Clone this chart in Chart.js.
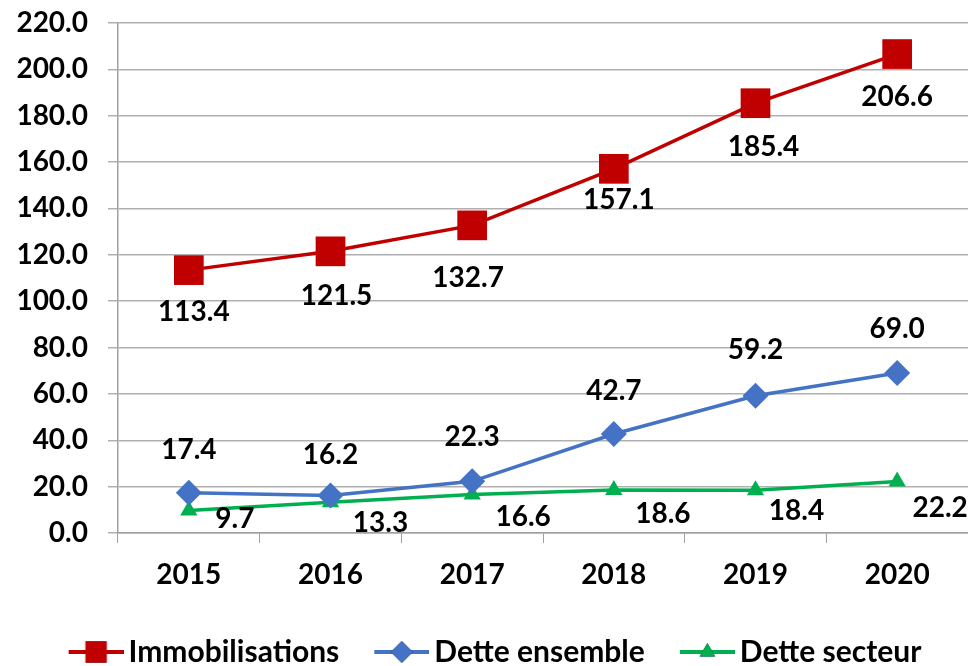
<!DOCTYPE html>
<html>
<head>
<meta charset="utf-8">
<script src="https://cdn.jsdelivr.net/npm/chart.js@4/dist/chart.umd.min.js"></script>
<style>
  html, body { margin: 0; padding: 0; background: #fff; }
  #wrap { width: 968px; height: 666px; }
</style>
</head>
<body>
<div id="wrap"><canvas id="chart" width="968" height="666"></canvas></div>
<script>
const years = ["2015", "2016", "2017", "2018", "2019", "2020"];
const immobilisations = [113.4, 121.5, 132.7, 157.1, 185.4, 206.6];
const detteEnsemble = [17.4, 16.2, 22.3, 42.7, 59.2, 69.0];
const detteSecteur = [9.7, 13.3, 16.6, 18.6, 18.4, 22.2];
const seriesNames = ["Immobilisations", "Dette ensemble", "Dette secteur"];

const FONT = "Lato";
const RED = "#C00000";
const BLUE = "#4472C4";
const GREEN = "#00B050";

// label offsets (px) from each point, per series
const labelOffsets = [
  { dx: [5, 6, -4, 5, 8, 0], dy: [42, 45, 53, 31, 44, 43] },
  { dx: [0, 0, 0, 0, 0, 0], dy: [-43, -40, -44, -43, -46, -44] },
  { dx: [46, 50, 51, 49, 41, 43], dy: [8, 21, 22, 24, 21, 26] }
];

// legend icon: line + marker, canvas shifted so it sits left of the text
function legendIcon(color, style, radius) {
  const c = document.createElement("canvas");
  c.width = 65;
  c.height = 32;
  const ctx = c.getContext("2d");
  ctx.strokeStyle = color;
  ctx.lineWidth = 4;
  ctx.beginPath();
  ctx.moveTo(10, 16);
  ctx.lineTo(65, 16);
  ctx.stroke();
  Chart.helpers.drawPoint(ctx, { pointStyle: style, radius: radius, borderWidth: 0 }, 37.5, 16);
  ctx.fillStyle = color;
  ctx.fill();
  return c;
}

const dataLabels = {
  id: "dataLabels",
  afterLayout(chart) {
    // nudge the legend a bit to the right, like the original
    chart.legend.left += 22;
  },
  afterDatasetsDraw(chart) {
    const ctx = chart.ctx;
    ctx.save();
    ctx.font = "bold 28px " + FONT;
    ctx.fillStyle = "#000";
    ctx.textAlign = "center";
    ctx.textBaseline = "middle";
    chart.data.datasets.forEach((ds, i) => {
      const meta = chart.getDatasetMeta(i);
      meta.data.forEach((pt, j) => {
        const off = labelOffsets[i];
        ctx.fillText(ds.data[j].toFixed(1), pt.x + off.dx[j], pt.y + off.dy[j]);
      });
    });
    ctx.restore();
  }
};

const icons = [
  legendIcon(RED, "rect", 15),
  legendIcon(BLUE, "rectRot", 11),
  legendIcon(GREEN, "triangle", 9)
];

new Chart(document.getElementById("chart"), {
  type: "line",
  data: {
    labels: years,
    datasets: [
      {
        label: seriesNames[0],
        data: immobilisations,
        borderColor: RED,
        backgroundColor: RED,
        borderWidth: 3.5,
        pointStyle: "rect",
        pointRadius: 21,
        pointBorderWidth: 0
      },
      {
        label: seriesNames[1],
        data: detteEnsemble,
        borderColor: BLUE,
        backgroundColor: BLUE,
        borderWidth: 3.5,
        pointStyle: "rectRot",
        pointRadius: 13,
        pointBorderWidth: 0
      },
      {
        label: seriesNames[2],
        data: detteSecteur,
        borderColor: GREEN,
        backgroundColor: GREEN,
        borderWidth: 3.5,
        pointStyle: "triangle",
        pointRadius: 10,
        pointBorderWidth: 0
      }
    ]
  },
  options: {
    responsive: false,
    animation: false,
    layout: { autoPadding: false, padding: { top: 23, right: 0, bottom: -11, left: 0 } },
    plugins: {
      tooltip: { enabled: false },
      legend: {
        position: "bottom",
        labels: {
          usePointStyle: true,
          pointStyleWidth: 45,
          padding: 35,
          color: "#000",
          font: { family: FONT, size: 30, weight: "bold" },
          generateLabels(chart) {
            return chart.data.datasets.map((ds, i) => ({
              text: ds.label,
              pointStyle: icons[i],
              fillStyle: ds.borderColor,
              strokeStyle: ds.borderColor,
              lineWidth: 0,
              hidden: false,
              datasetIndex: i,
              fontColor: "#000"
            }));
          }
        }
      }
    },
    scales: {
      x: {
        offset: true,
        grid: { display: true, drawOnChartArea: false, drawTicks: true, tickLength: 10, color: "#a0a0a0", offset: true },
        border: { color: "#a0a0a0", width: 1.5 },
        ticks: { color: "#000", padding: 15, font: { family: FONT, size: 28, weight: "bold" } },
        afterFit(s) { s.height = 69; s.paddingLeft = 0; s.paddingRight = 0; }
      },
      y: {
        min: 0,
        max: 220,
        ticks: {
          stepSize: 20,
          color: "#000",
          padding: 20,
          font: { family: FONT, size: 28, weight: "bold" },
          callback: (v) => v.toFixed(1)
        },
        grid: { color: "#b0b0b0", lineWidth: 1.5, tickLength: 10 },
        border: { color: "#a0a0a0", width: 1.5 },
        afterFit(s) { s.width = 118; s.paddingTop = 0; s.paddingBottom = 0; }
      }
    }
  },
  plugins: [dataLabels]
});
</script>
</body>
</html>
